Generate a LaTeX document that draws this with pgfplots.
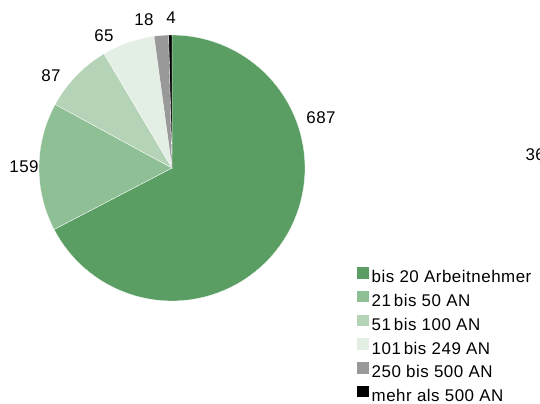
\documentclass[border=0pt]{standalone}
\usepackage{fontspec}
\setmainfont{Liberation Sans}[LetterSpace=3]
\usepackage{pgfplots}
\usepackage{pgfplotstable}
\pgfplotsset{compat=1.18}
\definecolor{c0}{HTML}{5B9E64}
\definecolor{c1}{HTML}{8FBF94}
\definecolor{c2}{HTML}{B4D3B7}
\definecolor{c3}{HTML}{E3EFE4}
\definecolor{c4}{HTML}{999999}
\definecolor{c5}{HTML}{000000}

\pgfplotstableread{
value
687
159
87
65
18
4
}\piedata

\newcommand\lbl{\fontsize{17}{20}\selectfont}

\begin{document}
\begin{tikzpicture}
% cumulative angles from the data
\gdef\total{0}
\foreach \i in {0,...,5}{%
  \pgfplotstablegetelem{\i}{value}\of\piedata
  \pgfmathsetmacro\tmpv{\total+\pgfplotsretval}\xdef\total{\tmpv}}
\gdef\cum{0}
\expandafter\xdef\csname ang0\endcsname{0}
\foreach \i in {0,...,5}{%
  \pgfplotstablegetelem{\i}{value}\of\piedata
  \pgfmathsetmacro\tmpv{\cum+\pgfplotsretval/\total*360}\xdef\cum{\tmpv}%
  \pgfmathtruncatemacro\j{\i+1}%
  \expandafter\xdef\csname ang\j\endcsname{\tmpv}}
\begin{axis}[
  at={(0,0)}, anchor=south west,
  width=540bp, height=403bp, scale only axis,
  xmin=0, xmax=540, ymin=0, ymax=403,
  hide axis, clip=false,
  legend cell align=left,
  legend image code/.code={\fill[#1, draw=none] (0bp,0bp) rectangle (12bp,11.5bp);},
  legend style={at={(0.6611,0.3375)}, anchor=north west, draw=none, fill=none,
    inner sep=0pt, row sep=4.5bp, column sep=2.5bp, font=\lbl,
    nodes={inner sep=0pt, text height=12bp, text depth=3.5bp}},
]
\pgfplotsinvokeforeach{0,...,5}{%
  \pgfmathtruncatemacro\k{#1+1}%
  \edef\tmp{\noexpand\addplot[fill=c#1, draw=white, line width=0.3pt, forget plot,
     domain=\csname ang#1\endcsname:\csname ang\k\endcsname, samples=80]
     ({172+133*sin(x)},{235+133*cos(x)}) -- (axis cs:172,235) -- cycle;}%
  \tmp
}
\addlegendimage{fill=c0}\addlegendentry{bis 20 Arbeitnehmer}
\addlegendimage{fill=c1}\addlegendentry{21\,bis 50 AN}
\addlegendimage{fill=c2}\addlegendentry{51\,bis 100 AN}
\addlegendimage{fill=c3}\addlegendentry{101\,bis 249 AN}
\addlegendimage{fill=c4}\addlegendentry{250 bis 500 AN}
\addlegendimage{fill=c5}\addlegendentry{mehr als 500 AN}
\node[font=\lbl] at (axis cs:321,285) {687};
\node[font=\lbl] at (axis cs:24,236) {159};
\node[font=\lbl] at (axis cs:51,327) {87};
\node[font=\lbl] at (axis cs:104,367) {65};
\node[font=\lbl] at (axis cs:144,383) {18};
\node[font=\lbl] at (axis cs:171,385) {4};
\node[font=\lbl, anchor=west] at (axis cs:522,248) {36};
\end{axis}
\pgfresetboundingbox
\path[use as bounding box] (current axis.south west) rectangle (current axis.north east);
\end{tikzpicture}
\end{document}
